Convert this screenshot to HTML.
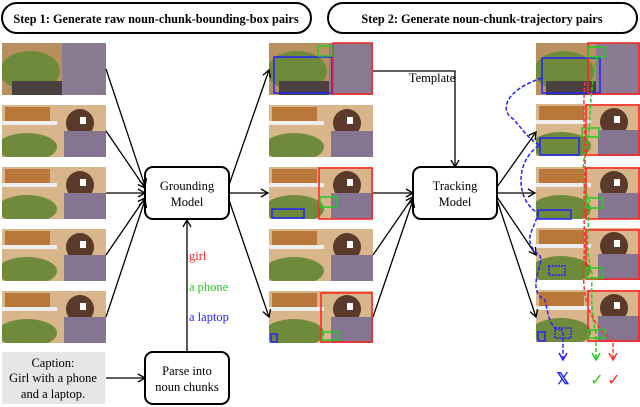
<!DOCTYPE html>
<html><head><meta charset="utf-8"><style>html,body{margin:0;padding:0;background:#fff}svg{display:block}</style></head><body>
<svg width="640" height="407" viewBox="0 0 640 407" xmlns="http://www.w3.org/2000/svg" font-family="Liberation Serif, serif">
<defs>
<clipPath id="c"><rect width="104" height="52"/></clipPath>
<marker id="a" markerWidth="10" markerHeight="10" refX="8" refY="5" orient="auto" markerUnits="userSpaceOnUse"><path d="M1,1 L8,5 L1,9" fill="none" stroke="#000" stroke-width="1.3"/></marker>
<marker id="ab" markerWidth="10" markerHeight="10" refX="8" refY="5" orient="auto" markerUnits="userSpaceOnUse"><path d="M1,1 L8,5 L1,9" fill="none" stroke="#22f" stroke-width="1.5"/></marker>
<marker id="ag" markerWidth="10" markerHeight="10" refX="8" refY="5" orient="auto" markerUnits="userSpaceOnUse"><path d="M1,1 L8,5 L1,9" fill="none" stroke="#2c2" stroke-width="1.5"/></marker>
<marker id="ar" markerWidth="10" markerHeight="10" refX="8" refY="5" orient="auto" markerUnits="userSpaceOnUse"><path d="M1,1 L8,5 L1,9" fill="none" stroke="#f33" stroke-width="1.5"/></marker>
<g id="i1" clip-path="url(#c)"><rect width="104" height="52" fill="#c9a57a"/><rect x="0" y="0" width="60" height="52" fill="#b89060"/><ellipse cx="28" cy="28" rx="30" ry="20" fill="#6f8a3a"/><rect x="60" y="0" width="44" height="52" fill="#8a7a92"/><rect x="10" y="38" width="50" height="14" fill="#4a4040"/></g>
<g id="i2" clip-path="url(#c)"><rect width="104" height="52" fill="#d8b58a"/><rect x="3" y="2" width="45" height="14" fill="#b9773a"/><rect x="0" y="16" width="55" height="4" fill="#eee"/><ellipse cx="25" cy="42" rx="30" ry="14" fill="#6f8a3a"/><ellipse cx="78" cy="18" rx="14" ry="14" fill="#5a3a2a"/><rect x="62" y="26" width="42" height="26" fill="#857590"/><rect x="78" y="12" width="6" height="7" fill="#fff"/></g>
</defs>
<g fill="none" stroke="#000" stroke-width="2">
<rect x="2" y="3" width="309" height="30" rx="15"/>
<rect x="328" y="3" width="309" height="30" rx="15"/>
</g>
<text x="156" y="23" font-size="12.3" font-weight="bold" text-anchor="middle">Step 1: Generate raw noun-chunk-bounding-box pairs</text>
<text x="482" y="23" font-size="12.3" font-weight="bold" text-anchor="middle">Step 2: Generate noun-chunk-trajectory pairs</text>
<use href="#i1" x="2" y="43"/><use href="#i2" x="2" y="105"/><use href="#i2" x="2" y="167"/><use href="#i2" x="2" y="229"/><use href="#i2" x="2" y="291"/>
<use href="#i1" x="269" y="43"/><use href="#i2" x="269" y="105"/><use href="#i2" x="269" y="167"/><use href="#i2" x="269" y="229"/><use href="#i2" x="269" y="291"/>
<g fill="none" stroke-width="1.5">
<rect x="274" y="57" width="58" height="36" stroke="#22f"/><rect x="333" y="43" width="39" height="51" stroke="#f22"/><rect x="318" y="46" width="14" height="10" stroke="#2c2"/>
<rect x="319" y="168" width="53" height="51" stroke="#f22"/><rect x="320" y="197" width="17" height="10" stroke="#2c2"/><rect x="272" y="209" width="32" height="9" stroke="#22f"/>
<rect x="321" y="293" width="51" height="49" stroke="#f22"/><rect x="322" y="332" width="17" height="8" stroke="#2c2"/><rect x="271" y="334" width="6" height="8" stroke="#22f"/>
</g>
<use href="#i1" x="536" y="43"/><use href="#i2" x="536" y="104"/><use href="#i2" x="536" y="167"/><use href="#i2" x="536" y="228"/><use href="#i2" x="536" y="290"/>
<g fill="none" stroke-width="1.5">
<rect x="542" y="58" width="58" height="35" stroke="#22f"/><rect x="588" y="43" width="51" height="51" stroke="#f22"/><rect x="588" y="47" width="17" height="10" stroke="#2c2"/>
<rect x="586" y="105" width="53" height="50" stroke="#f22"/><rect x="582" y="128" width="17" height="9" stroke="#2c2"/><rect x="540" y="138" width="39" height="17" stroke="#22f"/>
<rect x="586" y="168" width="53" height="51" stroke="#f22"/><rect x="586" y="198" width="17" height="10" stroke="#2c2"/><rect x="538" y="210" width="33" height="9" stroke="#22f"/>
<rect x="586" y="230" width="53" height="49" stroke="#f22"/><rect x="586" y="268" width="17" height="10" stroke="#2c2"/><rect x="549" y="266" width="16" height="9" stroke="#22f" stroke-dasharray="2,1"/>
<rect x="588" y="291" width="51" height="50" stroke="#f22"/><rect x="588" y="330" width="17" height="8" stroke="#2c2"/><rect x="538" y="332" width="7" height="9" stroke="#22f"/><rect x="555" y="328" width="16" height="10" stroke="#22f" stroke-dasharray="2,1"/>
</g>
<g fill="#fff" stroke="#000" stroke-width="2">
<rect x="145" y="167" width="84" height="52" rx="8"/>
<rect x="413" y="167" width="84" height="52" rx="8"/>
<rect x="145" y="352" width="84" height="52" rx="8"/>
</g>
<rect x="2" y="352" width="103" height="52" fill="#e6e6e6"/>
<g font-size="12.5" text-anchor="middle">
<text x="187" y="190">Grounding</text><text x="187" y="206">Model</text>
<text x="455" y="190">Tracking</text><text x="455" y="206">Model</text>
<text x="187" y="375">Parse into</text><text x="187" y="391">noun chunks</text>
<text x="53" y="367">Caption:</text><text x="53" y="382">Girl with a phone</text><text x="53" y="398">and a laptop.</text>
<text x="432" y="82">Template</text>
</g>
<g font-size="12.5">
<text x="189" y="260" fill="#f22">girl</text>
<text x="189" y="291" fill="#2c2">a phone</text>
<text x="189" y="321" fill="#22f">a laptop</text>
</g>
<g stroke="#000" stroke-width="1.3" fill="none" marker-end="url(#a)">
<line x1="106" y1="69" x2="145" y2="186"/>
<line x1="106" y1="131" x2="145" y2="188"/>
<line x1="106" y1="193" x2="145" y2="193"/>
<line x1="106" y1="255" x2="145" y2="198"/>
<line x1="106" y1="317" x2="145" y2="200"/>
<line x1="106" y1="378" x2="145" y2="378"/>
<line x1="187" y1="352" x2="187" y2="220"/>
<line x1="229" y1="185" x2="269" y2="70"/>
<line x1="229" y1="193" x2="268" y2="193"/>
<line x1="229" y1="200" x2="269" y2="317"/>
<line x1="373" y1="193" x2="413" y2="193"/>
<line x1="373" y1="255" x2="413" y2="197"/>
<line x1="373" y1="317" x2="413" y2="200"/>
<polyline points="373,71 455,71 455,167"/>
<line x1="497" y1="187" x2="536" y2="132"/>
<line x1="497" y1="193" x2="535" y2="193"/>
<line x1="497" y1="197" x2="536" y2="255"/>
<line x1="497" y1="200" x2="536" y2="317"/>
</g>
<g fill="none" stroke-width="1.5" stroke-dasharray="4,2">
<path d="M542,78 C505,90 500,110 512,118 C520,125 528,140 540,145 C515,160 515,200 538,213 C535,230 520,240 540,256 C545,262 525,290 545,300 C548,312 548,322 557,330 L563,330 L563,360" stroke="#22f" marker-end="url(#ab)"/>
<path d="M597,57 C590,90 590,120 589,133 C585,150 578,180 590,203 C588,230 585,250 592,273 C592,290 590,310 596,334 L596,360" stroke="#2c2" marker-end="url(#ag)"/>
<path d="M585,82 C582,110 586,150 585,170 C583,200 585,240 584,260 C582,290 585,320 613,341 L613,360" stroke="#f33" marker-end="url(#ar)"/>
</g>
<text x="563" y="384" font-size="16" font-weight="bold" fill="#22f" text-anchor="middle">𝕏</text>
<text x="597" y="385" font-size="16" fill="#2c2" text-anchor="middle">✓</text>
<text x="614" y="385" font-size="16" fill="#f22" text-anchor="middle">✓</text>
</svg>
</body></html>
